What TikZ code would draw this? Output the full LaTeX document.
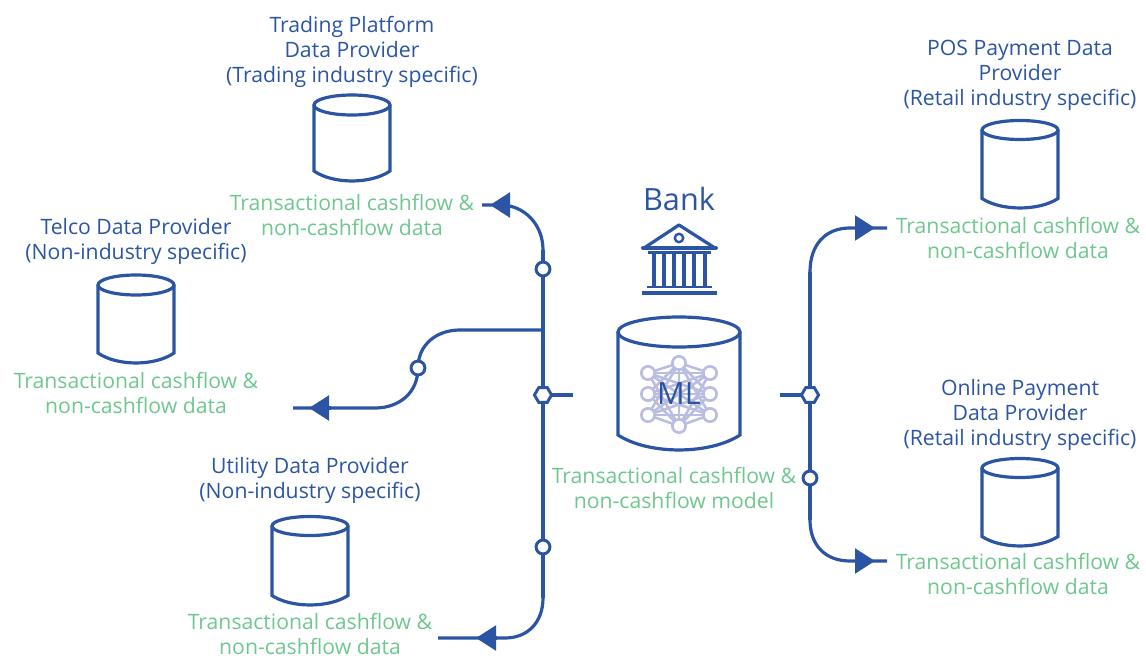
\documentclass[tikz,border=0pt]{standalone}
\usepackage{fontspec}
\setmainfont{Open Sans}
\usetikzlibrary{shapes.geometric,arrows.meta}
\definecolor{bl}{HTML}{2B55A3}
\definecolor{gr}{HTML}{6FC78F}
\definecolor{lav}{HTML}{B9BEE0}
\tikzset{x=0.75pt,y=-0.75pt,
 wire/.style={draw=bl,line width=2.4pt,line cap=butt},
 tipw/.style={wire,-{Triangle[length=15pt,width=18.5pt,fill=bl]}},
 cyl/.style={draw=bl,line width=2.4pt,fill=white},
 ring/.style={circle,draw=bl,line width=2.2pt,fill=white,inner sep=0pt,minimum size=10.4pt},
 hex/.style={regular polygon,regular polygon sides=6,shape border rotate=0,draw=bl,line width=2.2pt,fill=white,inner sep=0pt,minimum size=12.8pt},
 prov/.style={text=bl,align=center,font=\fontsize{15.9}{18.75}\selectfont,inner sep=0pt},
 data/.style={text=gr,align=center,font=\fontsize{15.9}{18.75}\selectfont,inner sep=0pt},
 nn/.style={circle,draw=lav,line width=2pt,fill=white,inner sep=0pt,minimum size=10pt},
 nl/.style={draw=lav,line width=1.9pt},
}
\newcommand{\drum}[5]{% cx, top centre y, rx, ry, bottom y
 \path[cyl] (#1-#3,#2) -- (#1-#3,#5-#4) .. controls (#1-#3*0.5,#5+#4*0.33) and (#1+#3*0.5,#5+#4*0.33) .. (#1+#3,#5-#4) -- (#1+#3,#2);
 \draw[cyl] (#1,#2) ellipse [x radius=#3,y radius=#4];
}
\begin{document}
\begin{tikzpicture}
\useasboundingbox (0,0) rectangle (1146,656);
% cylinders
\drum{352}{105}{38}{10}{181}
\drum{1020}{130}{38}{9.5}{208}
\drum{136}{285}{38}{10}{363}
\drum{1020}{468}{38}{9.5}{546}
\drum{310}{526}{38}{9.5}{605}
\drum{679}{332}{61}{15}{450}
% labels
\node[prov] (t1) at (352,52) {Trading Platform\\Data Provider\\(Trading industry specific)};
\node[data] (d1) at (352,215) {Transactional cashflow \&\\non-cashflow data};
\node[prov] (t2) at (136,241) {Telco Data Provider\\(Non-industry specific)};
\node[data] (d2) at (136,393) {Transactional cashflow \&\\non-cashflow data};
\node[prov] (t3) at (310,480) {Utility Data Provider\\(Non-industry specific)};
\node[data] (d3) at (310,634) {Transactional cashflow \&\\non-cashflow data};
\node[prov] (t4) at (1020,75.5) {POS Payment Data\\Provider\\(Retail industry specific)};
\node[data] (d4) at (1018,238) {Transactional cashflow \&\\non-cashflow data};
\node[prov] (t5) at (1020,415) {Online Payment\\Data Provider\\(Retail industry specific)};
\node[data] (d5) at (1018,574) {Transactional cashflow \&\\non-cashflow data};
\node[data] (d6) at (674,488) {Transactional cashflow \&\\non-cashflow model};
\node[text=bl,font=\fontsize{23}{27}\selectfont,inner sep=0pt] (bank) at (679,199) {Bank};
% bank icon
\draw[bl,line width=2.4pt,line join=round,fill=white] (644,248) -- (679,225) -- (715,248) -- cycle;
\draw[bl,line width=3pt,line cap=round] (643,248) -- (716,248);
\draw[bl,line width=1.8pt] (679,238) circle [radius=4.2];
\draw[bl,line width=1.8pt] (648,252.5) -- (711,252.5);
\foreach \cx in {654,664,674,684,694,705} \draw[bl,line width=2.5pt] (\cx,253) -- (\cx,286);
\draw[bl,line width=1.8pt] (647,287) -- (712,287);
\draw[bl,line width=3.6pt] (642,293) -- (717,293);
% network icon
\coordinate (na) at (648,373);
\coordinate (nb) at (648,394);
\coordinate (nc) at (648,415);
\coordinate (nd) at (710,373);
\coordinate (ne) at (710,394);
\coordinate (nf) at (710,415);
\coordinate (ng) at (679,363);
\coordinate (nh) at (679,426);
\foreach \pp in {a,b,c,d,e,f} \foreach \qq in {g,h} \draw[nl] (n\pp) -- (n\qq);
\foreach \pp in {a,b,c} \foreach \qq in {d,e,f} \draw[nl] (n\pp) -- (n\qq);
\draw[nl] (ng) -- (nh);
\foreach \pp in {a,b,c,d,e,f,g,h} \node[nn] (m\pp) at (n\pp) {};
\node[text=bl,font=\fontsize{23}{27}\selectfont,inner sep=0pt] (ml) at (679,394) {ML};
% junctions
\coordinate (ltop) at (543,250);
\coordinate (lbot) at (543,598);
\coordinate (ltoptip) at (490,205);
\coordinate (ltopend) at (482,205);
\coordinate (lbottip) at (476,638);
\coordinate (lbotend) at (438,638);
\coordinate (lstub) at (573,395);
\coordinate (brj) at (543,330);
\coordinate (brtip) at (309,408);
\coordinate (brend) at (293,408);
\coordinate (rtop) at (810,272);
\coordinate (rbot) at (810,520);
\coordinate (rtoptip) at (875,228);
\coordinate (rtopend) at (887,228);
\coordinate (rbottip) at (875,561);
\coordinate (rbotend) at (887,561);
\coordinate (rstub) at (780,395);
\coordinate (rthick) at (810,450);
\draw[wire] (ltop) -- (lbot);
\draw[wire] (ltop) .. controls (543,225) and (525,205) .. (500,205) -- (ltopend);
\draw[tipw] (510,205) -- (ltoptip);
\draw[wire] (lbot) .. controls (543,622) and (528,638) .. (505,638) -- (lbotend);
\draw[tipw] (497,638) -- (lbottip);
\draw[wire] (brj) -- (460,330) .. controls (436,330) and (418,345) .. (418,368);
\draw[wire] (418,368) .. controls (418,392) and (400,408) .. (375,408) -- (brend);
\draw[tipw] (331,408) -- (brtip);
\draw[wire] (lstub) -- (543,395);
\draw[wire] (rtop) -- (rbot);
\draw[wire] (rtop) .. controls (810,245) and (825,228) .. (850,228) -- (rtopend);
\draw[tipw] (855,228) -- (rtoptip);
\draw[wire] (rbot) .. controls (810,545) and (825,561) .. (850,561) -- (rbotend);
\draw[tipw] (855,561) -- (rbottip);
\draw[wire] (rstub) -- (810,395);
\draw[bl,line width=3pt] (810,395) -- (rthick);
\node[ring] (c1) at (543,269) {};
\node[ring] (c2) at (543,547) {};
\node[ring] (c3) at (418,368) {};
\node[ring] (c4) at (810,478) {};
\node[hex] (h1) at (543,395) {};
\node[hex] (h2) at (810,395) {};
\end{tikzpicture}
\end{document}
